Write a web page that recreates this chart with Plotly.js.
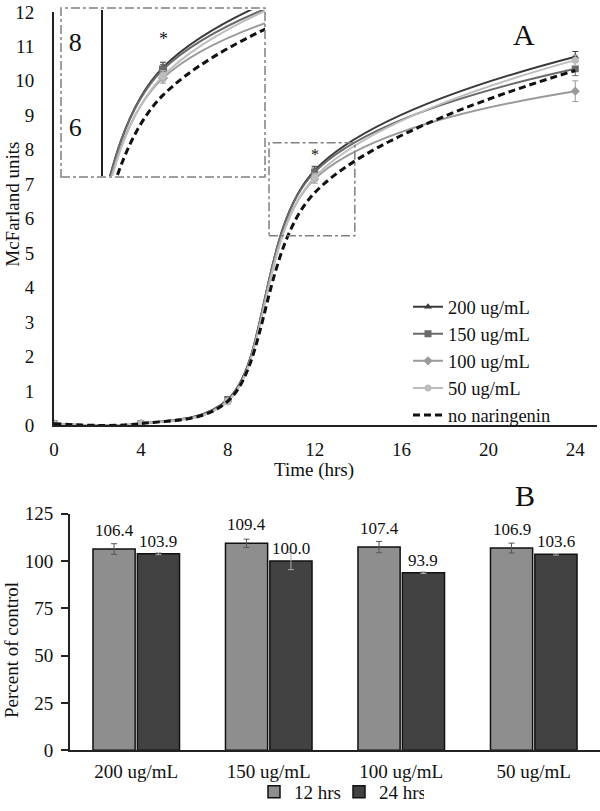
<!DOCTYPE html>
<html>
<head>
<meta charset="utf-8">
<script src="https://cdn.plot.ly/plotly-3.0.1.min.js"></script>
<style>html,body{margin:0;padding:0;background:#fff;}#chart{width:600px;height:811px;}</style>
</head>
<body>
<div id="chart"></div>
<script>
// ---- Panel A data (McFarland units vs time) ----
const hours = [0, 4, 8, 12, 24];
const hourTicks = [0, 4, 8, 12, 16, 20, 24];
const c200 = [0.05, 0.05, 0.75, 7.40, 10.70];
const c150 = [0.05, 0.05, 0.75, 7.35, 10.35];
const c100 = [0.05, 0.05, 0.70, 7.15, 9.70];
const c50  = [0.05, 0.05, 0.70, 7.20, 10.60];
const cNone = [0.05, 0.05, 0.70, 6.75, 10.30];
const e200 = [0.03, 0.03, 0.08, 0.12, 0.15];
const e150 = [0.03, 0.03, 0.08, 0.12, 0.20];
const e100 = [0.03, 0.03, 0.08, 0.12, 0.30];
const e50  = [0.03, 0.03, 0.08, 0.12, 0.15];
const seriesNames = ['200 ug/mL', '150 ug/mL', '100 ug/mL', '50 ug/mL', 'no naringenin'];
const insetTicks = [6, 8];

// ---- Panel B data (percent of control) ----
const cats = ['200 ug/mL', '150 ug/mL', '100 ug/mL', '50 ug/mL'];
const h12 = [106.4, 109.4, 107.4, 106.9];
const e12 = [2.8, 2.2, 3.0, 2.6];
const h24 = [103.9, 100.0, 93.9, 103.6];
const e24 = [0.5, 4.5, 0.4, 0.4];
const barNames = ['12 hrs', '24 hrs'];

const W = 600, H = 811;
const px = v => v / W;
const py = v => 1 - v / H;
const FONT = 'Liberation Serif, Times New Roman, serif';

const styles = [
  {color: '#3a3a3a', symbol: 'triangle-up'},
  {color: '#6a6a6a', symbol: 'square'},
  {color: '#9a9a9a', symbol: 'diamond'},
  {color: '#bdbdbd', symbol: 'circle'}
];
const vals = [c200, c150, c100, c50];
const errs = [e200, e150, e100, e50];

const traces = [];
// main panel
for (let i = 0; i < 4; i++) {
  traces.push({
    x: hours, y: vals[i], name: seriesNames[i], type: 'scatter', mode: 'lines+markers',
    xaxis: 'x', yaxis: 'y', legend: 'legend',
    line: {color: styles[i].color, width: 2, shape: 'spline', smoothing: 1},
    marker: {color: styles[i].color, symbol: styles[i].symbol, size: 7},
    error_y: {type: 'data', array: errs[i], color: styles[i].color, thickness: 1, width: 3}
  });
}
traces.push({
  x: hours, y: cNone, name: seriesNames[4], type: 'scatter', mode: 'lines',
  xaxis: 'x', yaxis: 'y', legend: 'legend',
  line: {color: '#111', width: 3, dash: '7px,4px', shape: 'spline', smoothing: 1}
});
// inset panel (same data, zoomed axes)
for (let i = 0; i < 4; i++) {
  traces.push({
    x: hours, y: vals[i], name: seriesNames[i], type: 'scatter', mode: 'lines+markers',
    xaxis: 'x2', yaxis: 'y2', showlegend: false,
    line: {color: styles[i].color, width: 2, shape: 'spline', smoothing: 1},
    marker: {color: styles[i].color, symbol: styles[i].symbol, size: 8},
    error_y: {type: 'data', array: errs[i], color: styles[i].color, thickness: 1, width: 3}
  });
}
traces.push({
  x: hours, y: cNone, name: seriesNames[4], type: 'scatter', mode: 'lines',
  xaxis: 'x2', yaxis: 'y2', showlegend: false,
  line: {color: '#111', width: 3, dash: '7px,4px', shape: 'spline', smoothing: 1}
});
// bars
traces.push({
  x: cats, y: h12, name: barNames[0], type: 'bar', xaxis: 'x3', yaxis: 'y3', legend: 'legend2',
  marker: {color: '#8e8e8e', line: {color: '#111', width: 1.5}},
  error_y: {type: 'data', array: e12, color: '#555', thickness: 1, width: 3}
});
traces.push({
  x: cats, y: h24, name: barNames[1], type: 'bar', xaxis: 'x3', yaxis: 'y3', legend: 'legend2',
  marker: {color: '#424242', line: {color: '#111', width: 1.5}},
  error_y: {type: 'data', array: e24, color: '#aaa', thickness: 1, width: 3}
});

const centered = {xref: 'paper', yref: 'paper', showarrow: false, xanchor: 'center', yanchor: 'middle'};
const annotations = [
  Object.assign({text: 'A', x: px(524), y: py(35), font: {size: 30, family: FONT, color: '#111'}}, centered),
  Object.assign({text: 'B', x: px(525), y: py(499), font: {size: 30, family: FONT, color: '#111'}}, centered),
  Object.assign({text: 'McFarland units', x: px(13), y: py(206), textangle: -90, font: {size: 19, family: FONT, color: '#111'}}, centered),
  Object.assign({text: 'Time (hrs)', x: px(314), y: py(473), font: {size: 19, family: FONT, color: '#111'}}, centered),
  Object.assign({text: 'Percent of control', x: px(12), y: py(654), textangle: -90, font: {size: 19, family: FONT, color: '#111'}}, centered),
  {text: '*', x: hours[3], y: c200[3], xref: 'x', yref: 'y', yshift: 16, showarrow: false, font: {size: 16, family: FONT, color: '#111'}},
  {text: '*', x: hours[3], y: c200[3], xref: 'x2', yref: 'y2', yshift: 28, showarrow: false, font: {size: 18, family: FONT, color: '#111'}}
];
for (let i = 0; i < cats.length; i++) {
  annotations.push({text: h12[i].toFixed(1), x: cats[i], y: h12[i], xref: 'x3', yref: 'y3', xshift: -22, yshift: 7, yanchor: 'bottom', showarrow: false, font: {size: 17, family: FONT, color: '#111'}});
  annotations.push({text: h24[i].toFixed(1), x: cats[i], y: h24[i], xref: 'x3', yref: 'y3', xshift: 22, yshift: 1, yanchor: 'bottom', showarrow: false, font: {size: 17, family: FONT, color: '#111'}});
}

const boxStyle = {color: '#808080', width: 1.5, dash: 'dashdot'};
const shapes = [
  {type: 'rect', xref: 'paper', yref: 'paper', x0: px(61), x1: px(265), y0: py(178), y1: py(8), line: boxStyle},
  {type: 'rect', xref: 'x', yref: 'y', x0: 9.9, x1: 13.85, y0: 5.5, y1: 8.2, line: boxStyle}
];

const axisFont = {size: 19, family: FONT, color: '#111'};
const layout = {
  width: W, height: H,
  margin: {l: 0, r: 0, t: 0, b: 0},
  paper_bgcolor: '#fff', plot_bgcolor: 'rgba(0,0,0,0)',
  font: {family: FONT, color: '#111'},
  showlegend: true,
  barmode: 'group', bargap: 0.33, bargroupgap: 0.05,
  xaxis: {domain: [px(54), px(597)], range: [0, 25], tickvals: hourTicks, showline: true, linecolor: '#222', linewidth: 2,
          ticks: '', showgrid: false, zeroline: false, tickfont: axisFont, ticklabelstandoff: 6, anchor: 'y', fixedrange: true},
  yaxis: {domain: [py(428), py(12)], range: [0, 12], dtick: 1, showline: true, linecolor: '#222', linewidth: 2,
          ticks: '', showgrid: false, zeroline: false, tickfont: axisFont, ticklabelstandoff: 14, anchor: 'x'},
  xaxis2: {domain: [px(103), px(265)], range: [9.91, 15.55], visible: false, anchor: 'y2'},
  yaxis2: {domain: [py(177), py(10)], range: [4.86, 8.744], tickvals: insetTicks, showline: true, linecolor: '#222', linewidth: 2,
           ticks: '', showgrid: false, zeroline: false, tickfont: {size: 26, family: FONT, color: '#111'}, ticklabelstandoff: 14, anchor: 'x2'},
  xaxis3: {domain: [px(70), 1], type: 'category', showline: true, linecolor: '#222', linewidth: 2, ticks: '',
           showgrid: false, zeroline: false, tickfont: axisFont, ticklabelstandoff: 3, anchor: 'y3'},
  yaxis3: {domain: [py(755), py(517)], range: [0, 125], dtick: 25, showline: true, linecolor: '#222', linewidth: 2,
           ticks: 'outside', ticklen: 7, tickwidth: 2, tickcolor: '#222', showgrid: false, zeroline: false,
           tickfont: axisFont, ticklabelstandoff: 4, anchor: 'x3'},
  legend: {x: px(408), y: py(290), xanchor: 'left', yanchor: 'top', bgcolor: 'rgba(0,0,0,0)',
           font: {size: 18.5, family: FONT, color: '#111'}, tracegroupgap: 0, itemwidth: 30},
  legend2: {orientation: 'h', x: px(254), y: py(797), xanchor: 'left', yanchor: 'middle', bgcolor: 'rgba(0,0,0,0)',
            entrywidth: 40, entrywidthmode: 'pixels',
            font: {size: 19, family: FONT, color: '#111'}},
  annotations: annotations,
  shapes: shapes
};

Plotly.newPlot('chart', traces, layout, {displayModeBar: false, staticPlot: true});
</script>
</body>
</html>
